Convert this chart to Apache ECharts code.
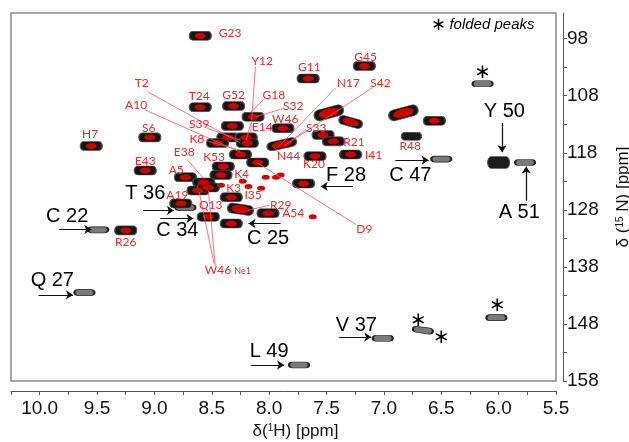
<!DOCTYPE html>
<html>
<head>
<meta charset="UTF-8">
<title>1H-15N HSQC</title>
<script src="https://cdn.jsdelivr.net/npm/echarts@6/dist/echarts.min.js"></script>
<style>
  html, body { margin: 0; padding: 0; background: #fff; }
  #chart { width: 629px; height: 442px; }
</style>
</head>
<body>
<div id="chart"></div>
<script>
  // peak positions [1H ppm, 15N ppm]
  const peaksRed = [
    [8.60, 97.5], [7.66, 105.0], [7.17, 102.8], [8.60, 110.0], [8.31, 109.8],
    [9.55, 116.8], [9.04, 115.3], [9.08, 121.1], [8.73, 122.3], [8.14, 111.7],
    [8.32, 113.3], [8.36, 115.3], [8.20, 115.3], [8.19, 116.3], [8.45, 116.3],
    [7.88, 113.7], [8.25, 118.3], [8.10, 119.7], [8.40, 120.4], [8.42, 121.9],
    [8.57, 123.2], [8.62, 124.6], [8.53, 124.1], [8.33, 125.8], [8.53, 129.2],
    [8.33, 130.4], [9.25, 131.6], [7.53, 114.9], [7.44, 116.0], [7.60, 118.6],
    [7.29, 118.3], [6.56, 112.4], [8.77, 126.9], [8.01, 128.6], [7.70, 123.4]
  ];
  const peaksTilted = [[7.48, 111.0], [7.29, 112.6], [6.83, 111.0], [7.89, 116.5], [8.25, 127.9]];
  const peaksRedOnly = [
    [8.23, 123.0], [8.18, 123.9], [8.03, 122.3], [7.94, 122.3], [7.90, 121.9],
    [8.07, 124.2], [8.42, 123.7], [7.62, 129.2]
  ];
  const peaksGray = [
    [9.61, 142.5], [9.49, 131.5], [7.74, 155.2], [6.50, 119.1], [5.77, 119.7],
    [7.01, 150.5], [6.14, 105.9], [6.02, 146.9], [6.66, 149.1], [8.73, 127.6]
  ];
  const peaksDark = [[6.00, 119.7], [6.76, 115.1]];

  // residue labels
  const redLabelText = ['G23', 'Y12', 'G11', 'G45', 'N17', 'S42', 'T2', 'T24', 'G52', 'G18', 'S32', 'A10',
    'S6', 'S39', 'E14', 'W46', 'S33', 'H7', 'K8', 'R21', 'R48', 'E38', 'N44', 'I41', 'K53', 'K20', 'E43',
    'A5', 'K4', 'K3', 'I35', 'A19', 'Q13', 'R29', 'A54', 'R26', 'D9', 'W46 Ne1'];
  const redLabelPos = [
    [8.34, 97.1], [8.06, 101.9], [7.65, 102.9], [7.16, 101.2], [7.31, 105.8], [7.03, 105.8],
    [9.11, 105.8], [8.61, 108.0], [8.31, 107.9], [7.96, 107.9], [7.79, 109.8], [9.16, 109.6],
    [9.05, 113.7], [8.61, 113.0], [8.06, 113.5], [7.86, 112.1], [7.59, 113.6], [9.56, 114.7],
    [8.63, 115.6], [7.26, 116.1], [6.77, 116.8], [8.74, 117.9], [7.83, 118.6], [7.09, 118.4],
    [8.48, 118.8], [7.61, 120.0], [9.08, 119.5], [8.81, 121.1], [8.24, 121.8], [8.31, 124.2],
    [8.14, 125.5], [8.80, 125.5], [8.51, 127.2], [7.90, 127.1], [7.79, 128.6], [9.25, 133.7],
    [7.17, 131.3], [8.36, 138.5]
  ];
  const blackLabelText = ['T 36', 'C 22', 'C 34', 'C 25', 'Q 27', 'L 49', 'F 28', 'C 47', 'Y 50', 'A 51', 'V 37'];
  const blackLabelPos = [
    [9.08, 125.1], [9.76, 129.2], [8.80, 131.6], [8.01, 133.0], [9.89, 140.3], [8.00, 152.9],
    [7.33, 121.9], [6.77, 121.9], [5.95, 110.7], [5.82, 128.5], [7.24, 148.2]
  ];
  const foldedStars = [[6.14, 104.0], [6.70, 147.5], [6.50, 150.5], [6.01, 144.8]];

  // arrows [from, to]
  const arrows = [
    [[9.10, 128.1], [8.83, 128.1]], [[9.83, 131.45], [9.55, 131.45]], [[8.95, 129.5], [8.66, 129.5]],
    [[7.90, 130.4], [8.18, 130.4]], [[10.01, 142.9], [9.71, 142.9]], [[8.16, 155.2], [7.87, 155.2]],
    [[7.27, 123.9], [7.55, 123.9]], [[6.90, 119.3], [6.61, 119.3]], [[5.97, 112.8], [5.97, 117.9]],
    [[5.76, 126.4], [5.76, 120.4]], [[7.39, 150.3], [7.11, 150.3]]
  ];
  // assignment leader lines
  const leaders = [
    [[8.12, 102.9], [8.16, 114.5]], [[8.05, 108.7], [8.16, 110.9]], [[7.87, 110.2], [8.12, 111.7]],
    [[9.06, 107.3], [8.25, 116.3]], [[9.08, 110.5], [8.25, 117.9]], [[8.54, 113.7], [8.25, 115.8]],
    [[8.16, 112.8], [8.20, 115.8]], [[7.42, 106.6], [7.92, 117.0]], [[7.10, 106.6], [7.87, 116.8]],
    [[7.68, 114.0], [7.84, 116.3]], [[8.53, 116.0], [8.26, 117.5]], [[8.71, 119.3], [8.57, 122.5]],
    [[8.10, 119.8], [7.24, 130.6]], [[8.47, 137.8], [8.53, 124.6]], [[8.48, 137.4], [8.61, 124.9]],
    [[8.00, 127.2], [8.19, 128.1]], [[7.92, 117.9], [7.96, 117.0]]
  ];

  const xTicks = [];
  for (let v = 5.5; v <= 10.26; v += 0.25) xTicks.push(+v.toFixed(2));
  const xLabels = [5.5, 6.0, 6.5, 7.0, 7.5, 8.0, 8.5, 9.0, 9.5, 10.0];
  const yTicks = [98, 103, 108, 113, 118, 123, 128, 133, 138, 143, 148, 153, 158];
  const yLabels = [98, 108, 118, 128, 138, 148, 158];

  const capsule = 'path://M5,0 H25 A5,5 0 0 1 25,10 H5 A5,5 0 0 1 5,0 Z';
  const tiltSize = [[30, 11], [24, 9], [30, 11], [30, 9], [26, 10]];
  const tiltRot = [15, -15, 15, 12, -8];

  const chart = echarts.init(document.getElementById('chart'));
  chart.setOption({
    animation: false,
    grid: { left: 11, right: 73, top: 13, bottom: 61, show: true, borderColor: '#8a8a8a', borderWidth: 1.5,
      outerBoundsMode: 'none', containLabel: false },
    xAxis: {
      type: 'value', min: 5.5, max: 10.25, inverse: true, position: 'bottom', offset: 10,
      splitLine: { show: false },
      axisLine: { show: true, lineStyle: { color: '#555', width: 1 } },
      axisTick: { show: true, customValues: xTicks, length: 4, lineStyle: { color: '#555' } },
      axisLabel: { customValues: xLabels, formatter: v => v.toFixed(1), fontSize: 19, color: '#111',
        fontFamily: 'Liberation Sans', margin: 8 },
      name: '{a|δ(}{s|1}{a|H) [ppm]}', nameLocation: 'middle', nameGap: 28,
      nameTextStyle: { padding: [0, 0, 0, 24], rich: {
        a: { fontSize: 17, color: '#111', fontFamily: 'Liberation Sans' },
        s: { fontSize: 10, color: '#111', fontFamily: 'Liberation Sans', verticalAlign: 'top' } } }
    },
    yAxis: {
      type: 'value', min: 93.5, max: 158, inverse: true, position: 'right', offset: 7,
      splitLine: { show: false },
      axisLine: { show: true, lineStyle: { color: '#555', width: 1 } },
      axisTick: { show: true, customValues: yTicks, length: 4, lineStyle: { color: '#555' } },
      axisLabel: { customValues: yLabels, fontSize: 19, color: '#111', fontFamily: 'Liberation Sans', margin: 4 },
      name: '{a|δ (}{s|15}{a| N) [ppm]}', nameLocation: 'middle', nameGap: 52, nameRotate: 90,
      nameTextStyle: { rich: {
        a: { fontSize: 17, color: '#111', fontFamily: 'Liberation Sans' },
        s: { fontSize: 10, color: '#111', fontFamily: 'Liberation Sans', verticalAlign: 'top' } } }
    },
    graphic: [{
      type: 'text', left: 431, top: 16, z: 10,
      style: { text: '{s|∗} {t|folded peaks}', rich: {
        s: { fontSize: 18, fontFamily: 'DejaVu Sans', fill: '#000' },
        t: { fontSize: 15, fontStyle: 'italic', fontFamily: 'Liberation Sans', fill: '#000' } } }
    }],
    series: [
      { type: 'scatter', data: peaksGray, symbol: capsule, symbolSize: [20, 6], z: 2,
        symbolRotate: (v, p) => (p.dataIndex === 8 ? -8 : 0),
        itemStyle: { color: '#7a7a7a', borderColor: '#222', borderWidth: 1.2, opacity: 1 } },
      { type: 'scatter', data: peaksDark, symbol: capsule, symbolSize: (v, p) => (p.dataIndex === 0 ? [22, 12] : [20, 8]), z: 2,
        itemStyle: { color: '#1c1c1c', borderColor: '#555', borderWidth: 0.8, opacity: 1 } },
      { type: 'scatter', data: peaksRed, symbol: capsule, symbolSize: [22, 9], z: 3,
        itemStyle: { color: '#161616', borderColor: '#555', borderWidth: 0.8, opacity: 1 } },
      { type: 'scatter', data: peaksTilted, symbol: capsule, z: 3,
        symbolSize: (v, p) => tiltSize[p.dataIndex], symbolRotate: (v, p) => tiltRot[p.dataIndex],
        itemStyle: { color: '#161616', borderColor: '#555', borderWidth: 0.8, opacity: 1 } },
      { type: 'scatter', data: peaksRed, symbol: 'circle', symbolSize: [11, 6], z: 4,
        itemStyle: { color: '#cc0000', opacity: 1 } },
      { type: 'scatter', data: peaksTilted, symbol: 'circle', z: 4,
        symbolSize: (v, p) => [tiltSize[p.dataIndex][0] * 0.7, tiltSize[p.dataIndex][1] * 0.8],
        symbolRotate: (v, p) => tiltRot[p.dataIndex],
        itemStyle: { color: '#cc0000', opacity: 1 } },
      { type: 'scatter', data: peaksRedOnly, symbol: 'circle', symbolSize: [8, 5], z: 4,
        itemStyle: { color: '#d40000', opacity: 1 } },
      { type: 'lines', coordinateSystem: 'cartesian2d', z: 5, silent: true,
        data: leaders.map(c => ({ coords: c })),
        lineStyle: { color: '#f25555', width: 0.8, opacity: 1 } },
      { type: 'lines', coordinateSystem: 'cartesian2d', z: 5, silent: true,
        symbol: ['none', 'arrow'], symbolSize: 7,
        data: arrows.map(c => ({ coords: c })),
        lineStyle: { color: '#111', width: 1.2, opacity: 1 } },
      { type: 'scatter', symbolSize: 0, z: 6, silent: true, itemStyle: { opacity: 1 },
        data: redLabelPos.map((p, i) => ({ value: p, name: redLabelText[i] })),
        label: { show: true, position: 'inside', color: '#f02828', fontSize: 12, fontFamily: 'Lato',
          formatter: p => (p.name === 'W46 Ne1' ? '{a|W46} {b|Ne1}' : p.name),
          rich: { a: { fontSize: 12, color: '#f02828', fontFamily: 'Lato' },
                  b: { fontSize: 9, color: '#f02828', fontFamily: 'Lato', verticalAlign: 'bottom' } } } },
      { type: 'scatter', symbolSize: 0, z: 6, silent: true, itemStyle: { opacity: 1 },
        data: blackLabelPos.map((p, i) => ({ value: p, name: blackLabelText[i] })),
        label: { show: true, position: 'inside', color: '#000', fontSize: 20, fontFamily: 'Liberation Sans',
          formatter: p => p.name } },
      { type: 'scatter', symbolSize: 0, z: 6, silent: true, itemStyle: { opacity: 1 }, data: foldedStars,
        label: { show: true, position: 'inside', color: '#000', fontSize: 20, fontFamily: 'DejaVu Sans',
          formatter: '∗' } }
    ]
  });
</script>
</body>
</html>
